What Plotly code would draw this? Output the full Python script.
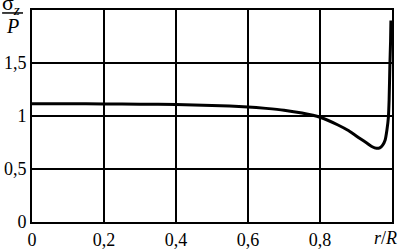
import plotly.graph_objects as go

r_over_R = [0.0, 0.1, 0.2, 0.3, 0.4, 0.5, 0.6, 0.65, 0.7, 0.75, 0.8, 0.85, 0.88, 0.91, 0.93, 0.945, 0.957, 0.966, 0.974, 0.981, 0.986, 0.990, 0.992, 0.994, 0.996, 0.997]
sigma_z_over_P = [1.115, 1.115, 1.114, 1.112, 1.108, 1.10, 1.085, 1.072, 1.055, 1.028, 0.988, 0.915, 0.86, 0.79, 0.745, 0.71, 0.695, 0.70, 0.725, 0.774, 0.87, 0.99, 1.15, 1.465, 1.7, 1.9]

x_tickvals = [0, 0.2, 0.4, 0.6, 0.8]
x_ticktext = ["0", "0,2", "0,4", "0,6", "0,8"]
y_tickvals = [0, 0.5, 1, 1.5]
y_ticktext = ["0", "0,5", "1", "1,5"]

font_family = "Liberation Serif"

fig = go.Figure()
fig.add_trace(go.Scatter(
    x=r_over_R, y=sigma_z_over_P, mode="lines",
    line=dict(color="black", width=3, shape="spline", smoothing=0.6),
    hoverinfo="skip", showlegend=False, cliponaxis=True,
))

fig.update_layout(
    width=403, height=249,
    margin=dict(l=32, r=11, t=10, b=27, autoexpand=False),
    paper_bgcolor="white", plot_bgcolor="white",
    font=dict(family=font_family, size=18, color="black"),
    xaxis=dict(
        range=[0, 1], tickvals=x_tickvals, ticktext=x_ticktext,
        showgrid=True, gridcolor="black", gridwidth=2,
        showline=True, linecolor="black", linewidth=2, mirror=True,
        zeroline=False, ticks="", ticklen=0, automargin=False,
        tickfont=dict(family=font_family, size=18, color="black"),
    ),
    yaxis=dict(
        range=[0, 2], tickvals=y_tickvals, ticktext=y_ticktext,
        showgrid=True, gridcolor="black", gridwidth=2,
        showline=True, linecolor="black", linewidth=2, mirror=True,
        zeroline=False, ticks="", ticklen=0, automargin=False,
        tickfont=dict(family=font_family, size=18, color="black"),
    ),
    annotations=[
        dict(text="<i>r</i>/<i>R</i>", xref="paper", yref="paper", x=1.02, y=-0.02,
             xanchor="right", yanchor="top", showarrow=False,
             font=dict(family=font_family, size=18, color="black")),
        dict(text="σ<sub><i>z</i></sub>", xref="paper", yref="paper", x=-0.09, y=0.955,
             xanchor="left", yanchor="bottom", showarrow=False,
             font=dict(family=font_family, size=22, color="black")),
        dict(text="<i>P</i>", xref="paper", yref="paper", x=-0.054, y=0.985,
             xanchor="center", yanchor="top", showarrow=False,
             font=dict(family=font_family, size=20, color="black")),
    ],
    shapes=[
        dict(type="line", xref="paper", yref="paper", x0=-0.083, x1=-0.025, y0=0.986, y1=0.986,
             line=dict(color="black", width=1.5)),
    ],
)

fig.write_html("out.html", config={"displayModeBar": False, "staticPlot": True},
               post_script="document.body.style.margin='0';document.body.style.overflow='hidden';")
